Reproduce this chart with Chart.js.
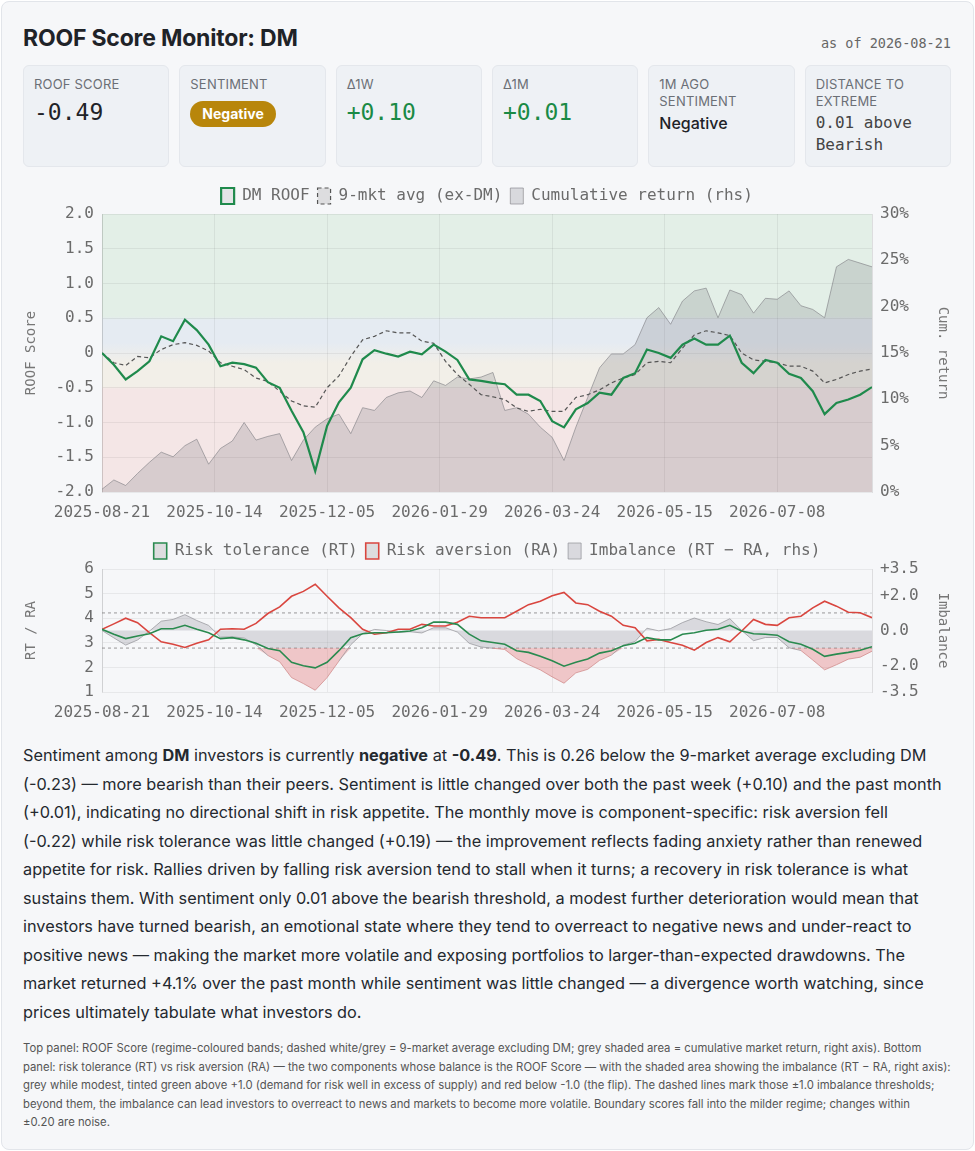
<!DOCTYPE html>
<html>
<head>
<meta charset="utf-8">
<title>ROOF Score Monitor: DM</title>
<script src="https://cdn.jsdelivr.net/npm/chart.js@4.4.1/dist/chart.umd.min.js"></script>
<style>
  html, body { margin: 0; padding: 0; background: #fff; }
  body { width: 975px; height: 1151px; position: relative; font-family: Inter, "Noto Sans", sans-serif; color: #1f2328; }
  .frame { position: absolute; left: 1px; top: 1px; width: 971px; height: 1147px; background: #f6f7f9; border: 1px solid #e2e5ea; border-radius: 8px; }
  .title { position: absolute; left: 23px; top: 24px; font-size: 23px; line-height: 28px; font-weight: 700; letter-spacing: -0.2px; }
  .asof { position: absolute; right: 24px; top: 34px; font-family: "DejaVu Sans Mono", monospace; font-size: 13.5px; line-height: 18px; color: #666; }
  .kpis { position: absolute; left: 23px; top: 65px; width: 928px; height: 98px; display: grid; grid-template-columns: repeat(6, 1fr); column-gap: 10px; }
  .kpi { background: #eef1f5; border: 1px solid #e4e7ec; border-radius: 6px; padding: 10px 10px; box-sizing: border-box; }
  .kpi-label { font-size: 13px; line-height: 17px; color: #6b6f76; letter-spacing: 0.2px; }
  .kpi-value { font-family: "DejaVu Sans Mono", monospace; font-size: 23px; line-height: 30px; margin-top: 4px; color: #1f2328; }
  .kpi-value.up { color: #1a8a45; }
  .kpi-text { font-size: 16px; line-height: 22px; margin-top: 2px; font-weight: 500; color: #1f2328; }
  .kpi-mono { font-family: "DejaVu Sans Mono", monospace; font-size: 16px; line-height: 22px; margin-top: 2px; color: #444; }
  .badge { display: inline-block; margin-top: 8px; background: #b8860b; color: #fff; font-weight: 700; font-size: 14px; line-height: 26px; padding: 0 12px; border-radius: 13px; }
  .chart-box { position: absolute; left: 23px; width: 928px; }
  .summary { position: absolute; left: 23px; top: 741px; width: 935px; font-size: 16.3px; line-height: 28.5px; color: #24292f; white-space: nowrap; }
  .note { position: absolute; left: 23px; top: 1039px; width: 935px; font-size: 11.3px; line-height: 18.5px; color: #555; white-space: nowrap; }
</style>
</head>
<body>
<div class="frame"></div>
<div class="title">ROOF Score Monitor: DM</div>
<div class="asof">as of 2026-08-21</div>

<div class="kpis">
  <div class="kpi"><div class="kpi-label">ROOF SCORE</div><div class="kpi-value">-0.49</div></div>
  <div class="kpi"><div class="kpi-label">SENTIMENT</div><span class="badge">Negative</span></div>
  <div class="kpi"><div class="kpi-label">Δ1W</div><div class="kpi-value up">+0.10</div></div>
  <div class="kpi"><div class="kpi-label">Δ1M</div><div class="kpi-value up">+0.01</div></div>
  <div class="kpi"><div class="kpi-label">1M AGO<br>SENTIMENT</div><div class="kpi-text">Negative</div></div>
  <div class="kpi"><div class="kpi-label">DISTANCE TO<br>EXTREME</div><div class="kpi-mono">0.01 above<br>Bearish</div></div>
</div>

<div class="chart-box" style="top:180px;height:346px;"><canvas id="roofChart"></canvas></div>
<div class="chart-box" style="top:535px;height:191px;"><canvas id="compChart"></canvas></div>

<div class="summary">
Sentiment among <b>DM</b> investors is currently <b>negative</b> at <b>-0.49</b>. This is 0.26 below the 9-market average excluding DM<br>
(-0.23) — more bearish than their peers. Sentiment is little changed over both the past week (+0.10) and the past month<br>
(+0.01), indicating no directional shift in risk appetite. The monthly move is component-specific: risk aversion fell<br>
(-0.22) while risk tolerance was little changed (+0.19) — the improvement reflects fading anxiety rather than renewed<br>
appetite for risk. Rallies driven by falling risk aversion tend to stall when it turns; a recovery in risk tolerance is what<br>
sustains them. With sentiment only 0.01 above the bearish threshold, a modest further deterioration would mean that<br>
investors have turned bearish, an emotional state where they tend to overreact to negative news and under-react to<br>
positive news — making the market more volatile and exposing portfolios to larger-than-expected drawdowns. The<br>
market returned +4.1% over the past month while sentiment was little changed — a divergence worth watching, since<br>
prices ultimately tabulate what investors do.
</div>

<div class="note">
Top panel: ROOF Score (regime-coloured bands; dashed white/grey = 9-market average excluding DM; grey shaded area = cumulative market return, right axis). Bottom<br>
panel: risk tolerance (RT) vs risk aversion (RA) — the two components whose balance is the ROOF Score — with the shaded area showing the imbalance (RT − RA, right axis):<br>
grey while modest, tinted green above +1.0 (demand for risk well in excess of supply) and red below -1.0 (the flip). The dashed lines mark those ±1.0 imbalance thresholds;<br>
beyond them, the imbalance can lead investors to overreact to news and markets to become more volatile. Boundary scores fall into the milder regime; changes within<br>
±0.20 are noise.
</div>

<script>
// ── Data (one sample every 4 business days, 2025-08-21 .. 2026-08-21) ──
var STEP = 4;
var LAST_DAY = 260;
var TICK_DAYS   = [0, 38, 76, 114, 152, 190, 228];
var TICK_LABELS = ['2025-08-21', '2025-10-14', '2025-12-05', '2026-01-29', '2026-03-24', '2026-05-15', '2026-07-08'];

var DM_ROOF = [0.00, -0.17, -0.38, -0.26, -0.12, 0.24, 0.17, 0.48, 0.33, 0.12, -0.19, -0.14, -0.16, -0.21, -0.42, -0.50,
  -0.83, -1.14, -1.70, -1.05, -0.71, -0.50, -0.09, 0.04, -0.01, -0.05, 0.02, -0.02, 0.12, 0.02, -0.10, -0.38, -0.40,
  -0.43, -0.45, -0.60, -0.60, -0.69, -0.98, -1.07, -0.81, -0.72, -0.57, -0.60, -0.36, -0.29, 0.05, 0.00, -0.07, 0.12,
  0.21, 0.12, 0.12, 0.25, -0.14, -0.29, -0.10, -0.14, -0.30, -0.36, -0.55, -0.88, -0.72, -0.67, -0.60, -0.49];

var MKT_AVG = [0.00, -0.14, -0.18, -0.05, -0.07, 0.05, 0.12, 0.15, 0.11, 0.03, -0.14, -0.19, -0.24, -0.36, -0.41, -0.55,
  -0.69, -0.76, -0.78, -0.50, -0.33, -0.05, 0.19, 0.24, 0.32, 0.29, 0.29, 0.17, 0.14, -0.12, -0.31, -0.45, -0.60,
  -0.63, -0.67, -0.79, -0.84, -0.81, -0.84, -0.84, -0.64, -0.60, -0.53, -0.43, -0.36, -0.31, -0.14, -0.12, -0.14, 0.07,
  0.26, 0.32, 0.29, 0.25, 0.00, -0.10, -0.12, -0.14, -0.19, -0.19, -0.26, -0.43, -0.38, -0.31, -0.26, -0.23];

var CUM_RET = [0.3, 1.3, 0.7, 2.0, 3.2, 4.3, 3.8, 5.0, 5.7, 3.0, 4.7, 5.5, 7.5, 5.6, 6.0, 6.3,
  3.4, 5.6, 7.0, 7.9, 8.4, 6.3, 9.1, 8.8, 10.2, 10.7, 10.9, 10.2, 12.0, 11.5, 12.4, 12.2, 12.4,
  12.9, 8.8, 9.1, 8.4, 7.0, 5.9, 3.4, 7.0, 10.2, 13.4, 14.9, 14.9, 15.9, 18.8, 19.9, 18.1, 20.6,
  21.7, 22.0, 18.8, 21.8, 21.3, 19.3, 20.9, 20.8, 21.7, 20.1, 19.7, 18.8, 24.3, 25.1, 24.7, 24.3];

var RISK_TOL = [3.55, 3.35, 3.17, 3.28, 3.37, 3.57, 3.57, 3.71, 3.55, 3.41, 3.17, 3.21, 3.12, 2.98, 2.77, 2.68,
  2.21, 2.07, 1.98, 2.21, 2.68, 3.21, 3.37, 3.41, 3.41, 3.44, 3.48, 3.61, 3.84, 3.84, 3.75, 3.35, 3.08,
  3.01, 2.94, 2.68, 2.61, 2.45, 2.27, 2.05, 2.21, 2.34, 2.58, 2.68, 2.88, 2.98, 3.21, 3.12, 3.12, 3.35,
  3.41, 3.51, 3.55, 3.71, 3.48, 3.37, 3.35, 3.31, 3.04, 2.94, 2.74, 2.45, 2.54, 2.61, 2.70, 2.84];

var RISK_AVR = [3.55, 3.77, 4.00, 3.82, 3.41, 3.04, 2.94, 2.81, 2.98, 3.12, 3.55, 3.57, 3.55, 3.79, 4.19, 4.46,
  4.89, 5.09, 5.38, 4.89, 4.42, 4.02, 3.55, 3.35, 3.41, 3.55, 3.55, 3.75, 3.68, 3.68, 3.84, 4.08, 4.02,
  4.02, 4.02, 4.28, 4.55, 4.69, 4.91, 5.05, 4.62, 4.55, 4.28, 4.08, 3.71, 3.61, 3.08, 3.14, 3.01, 2.90,
  2.70, 3.01, 3.21, 3.04, 3.48, 3.95, 3.75, 3.71, 4.02, 4.08, 4.42, 4.69, 4.49, 4.24, 4.22, 4.02];

var ROOF_TICKS = [-2, -1.5, -1, -0.5, 0, 0.5, 1, 1.5, 2];
var IMB_TICKS = [-3.5, -2, 0, 2, 3.5];
var IMB_LIMIT = 1.0;

// ── Helpers ────────────────────────────────────────────────────────
var MONO = '"DejaVu Sans Mono", monospace';
var TICK_COLOR = '#6b6b6b';
var GRID_COLOR = 'rgba(0,0,0,0.06)';

function _pts(arr) {
  return arr.map(function (v, i) { return { x: i * STEP, y: v }; });
}

var IMBALANCE = RISK_TOL.map(function (t, i) { return +(t - RISK_AVR[i]).toFixed(2); });

function _xScale() {
  return {
    type: 'linear', min: 0, max: LAST_DAY,
    afterBuildTicks: function (ax) { ax.ticks = TICK_DAYS.map(function (d) { return { value: d }; }); },
    ticks: {
      autoSkip: false, maxRotation: 0, padding: 11, color: TICK_COLOR,
      font: { family: MONO, size: 16 },
      callback: function (v) { var i = TICK_DAYS.indexOf(v); return i >= 0 ? TICK_LABELS[i] : ''; }
    },
    grid: { color: GRID_COLOR, drawTicks: false },
    border: { display: false },
    afterFit: function (ax) { ax.height = 34; }
  };
}

function _yAxis(pos, title, opts) {
  var s = {
    position: pos,
    min: opts.min, max: opts.max,
    ticks: { color: TICK_COLOR, font: { family: MONO, size: 16 }, padding: 8, callback: opts.fmt },
    grid: pos === 'left' ? { color: GRID_COLOR, drawTicks: false } : { display: false, drawTicks: false },
    border: { display: true, color: 'rgba(0,0,0,0.1)' },
    title: { display: true, text: title, color: '#777', font: { family: MONO, size: 14 }, padding: { top: 0, bottom: 4 } },
    afterFit: function (ax) { ax.width = 79; }
  };
  if (opts.ticks) {
    s.afterBuildTicks = function (ax) { ax.ticks = opts.ticks.map(function (v) { return { value: v }; }); };
  } else {
    s.ticks.stepSize = opts.step;
  }
  return s;
}

function _legend(maxIdx) {
  return {
    position: 'top',
    labels: {
      color: TICK_COLOR, font: { family: MONO, size: 16 },
      boxWidth: 13, boxHeight: 16, padding: 8,
      filter: function (item) { return item.datasetIndex < maxIdx; }
    }
  };
}

// regime-coloured bands behind the ROOF score
var regimeBands = {
  id: 'regimeBands',
  beforeDraw: function (chart) {
    var a = chart.chartArea, y = chart.scales.y, ctx = chart.ctx;
    if (!a) return;
    var h = a.bottom - a.top;
    var g = ctx.createLinearGradient(0, a.top, 0, a.bottom);
    function stop(v, c) {
      var p = (y.getPixelForValue(v) - a.top) / h;
      g.addColorStop(Math.min(1, Math.max(0, p)), c);
    }
    stop(2.0, '#e3efe7');
    stop(0.53, '#e3efe7');
    stop(0.47, '#e5ebf2');
    stop(0.15, '#e5ebf2');
    stop(-0.15, '#f2efe8');
    stop(-0.48, '#f2efe8');
    stop(-0.52, '#f4e6e6');
    stop(-2.0, '#f4e6e6');
    ctx.save();
    ctx.fillStyle = g;
    ctx.fillRect(a.left, a.top, a.right - a.left, h);
    ctx.restore();
  }
};

var lineBase = { pointRadius: 0, pointHoverRadius: 0, tension: 0, fill: false };

function _ds(o) {
  var d = {};
  for (var k in lineBase) d[k] = lineBase[k];
  for (var j in o) d[j] = o[j];
  return d;
}

// ── Top panel: ROOF score ──────────────────────────────────────────
new Chart(document.getElementById('roofChart'), {
  type: 'line',
  data: {
    datasets: [
      _ds({ label: 'DM ROOF', data: _pts(DM_ROOF), borderColor: '#1f8a4c', backgroundColor: 'rgba(0,0,0,0.07)', borderWidth: 2.2, yAxisID: 'y' }),
      _ds({ label: '9-mkt avg (ex-DM)', data: _pts(MKT_AVG), borderColor: '#555', backgroundColor: 'rgba(0,0,0,0.1)', borderWidth: 1.2, borderDash: [4, 3], yAxisID: 'y' }),
      _ds({ label: 'Cumulative return (rhs)', data: _pts(CUM_RET), borderColor: 'rgba(125,125,130,0.6)', backgroundColor: 'rgba(100,100,110,0.2)', borderWidth: 1, fill: 'start', yAxisID: 'y1' })
    ]
  },
  options: {
    responsive: true, maintainAspectRatio: false, animation: false,
    layout: { padding: 0 },
    scales: {
      x: _xScale(),
      y: _yAxis('left', 'ROOF Score', { min: -2, max: 2, ticks: ROOF_TICKS, fmt: function (v) { return v === 0 ? '0' : v.toFixed(1); } }),
      y1: _yAxis('right', 'Cum. return', { min: 0, max: 30, step: 5, fmt: function (v) { return v + '%'; } })
    },
    plugins: { legend: _legend(3), tooltip: { enabled: false } }
  },
  plugins: [regimeBands]
});

// ── Bottom panel: RT vs RA and their imbalance ─────────────────────
var imbGrey = IMBALANCE.map(function (v) { return Math.max(-IMB_LIMIT, Math.min(IMB_LIMIT, v)); });
var imbRed = IMBALANCE.map(function (v) { return Math.min(v, -IMB_LIMIT); });
var imbGreen = IMBALANCE.map(function (v) { return Math.max(v, IMB_LIMIT); });

new Chart(document.getElementById('compChart'), {
  type: 'line',
  data: {
    datasets: [
      _ds({ label: 'Risk tolerance (RT)', data: _pts(RISK_TOL), borderColor: '#2a8a4f', backgroundColor: 'rgba(0,0,0,0.1)', borderWidth: 1.6, yAxisID: 'y' }),
      _ds({ label: 'Risk aversion (RA)', data: _pts(RISK_AVR), borderColor: '#d9463f', backgroundColor: 'rgba(0,0,0,0.1)', borderWidth: 1.6, yAxisID: 'y' }),
      _ds({ label: 'Imbalance (RT − RA, rhs)', data: _pts(IMBALANCE), borderColor: 'rgba(150,150,155,0.75)', backgroundColor: 'rgba(150,150,160,0.3)', borderWidth: 1, yAxisID: 'y1',
        segment: { borderColor: function (c) { return (c.p0.parsed.y < -IMB_LIMIT && c.p1.parsed.y < -IMB_LIMIT) ? 'rgba(205,130,130,0.7)' : undefined; } } }),
      _ds({ label: 'imb-grey', data: _pts(imbGrey), borderWidth: 0, borderColor: 'rgba(0,0,0,0)', backgroundColor: 'rgba(150,150,160,0.3)', fill: 'origin', yAxisID: 'y1' }),
      _ds({ label: 'imb-red', data: _pts(imbRed), borderWidth: 0, borderColor: 'rgba(0,0,0,0)', backgroundColor: 'rgba(222,85,85,0.3)', fill: { value: -IMB_LIMIT }, yAxisID: 'y1' }),
      _ds({ label: 'imb-green', data: _pts(imbGreen), borderWidth: 0, borderColor: 'rgba(0,0,0,0)', backgroundColor: 'rgba(40,160,80,0.3)', fill: { value: IMB_LIMIT }, yAxisID: 'y1' }),
      _ds({ label: 'upper', data: [{ x: 0, y: IMB_LIMIT }, { x: LAST_DAY, y: IMB_LIMIT }], borderColor: 'rgba(120,120,120,0.75)', borderWidth: 1, borderDash: [3, 3], yAxisID: 'y1' }),
      _ds({ label: 'lower', data: [{ x: 0, y: -IMB_LIMIT }, { x: LAST_DAY, y: -IMB_LIMIT }], borderColor: 'rgba(120,120,120,0.75)', borderWidth: 1, borderDash: [3, 3], yAxisID: 'y1' })
    ]
  },
  options: {
    responsive: true, maintainAspectRatio: false, animation: false,
    layout: { padding: 0 },
    scales: {
      x: _xScale(),
      y: _yAxis('left', 'RT / RA', { min: 1, max: 6, step: 1, fmt: function (v) { return String(v); } }),
      y1: _yAxis('right', 'Imbalance', { min: -3.5, max: 3.5, ticks: IMB_TICKS, fmt: function (v) { return v === 0 ? '0.0' : (v > 0 ? '+' : '') + v.toFixed(1); } })
    },
    plugins: { legend: _legend(3), tooltip: { enabled: false } }
  }
});
</script>
</body>
</html>
